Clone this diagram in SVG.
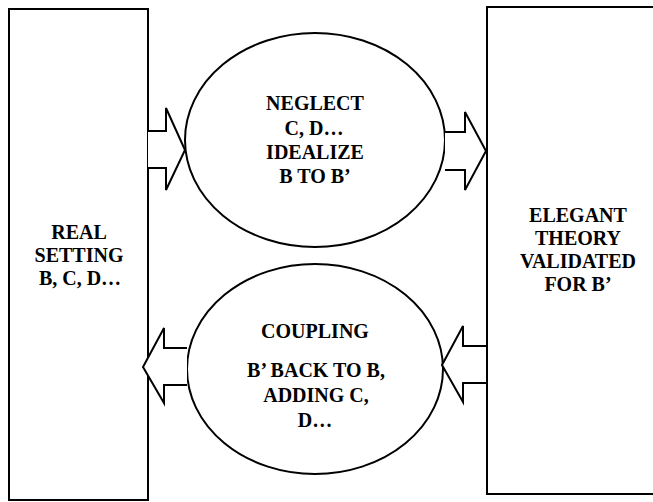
<svg xmlns="http://www.w3.org/2000/svg" width="653" height="502" viewBox="0 0 653 502">
<style>
.box{fill:#fff;stroke:#000;stroke-width:2}
.arr{fill:#fff;stroke:#000;stroke-width:2;stroke-linejoin:miter}
.t{font-family:'Liberation Serif','Times New Roman',serif;font-weight:700;font-size:20px;fill:#000;text-anchor:middle}
</style>
<rect width="653" height="502" fill="#fff"/>
<g id="real-setting">
<rect class="box" x="9" y="9" width="139" height="491"/>
<text class="t" x="79" y="239">REAL</text>
<text class="t" x="79" y="262">SETTING</text>
<text class="t" x="80" y="285">B, C, D…</text>
</g>
<g id="elegant-theory">
<rect class="box" x="487" y="7" width="180" height="487"/>
<text class="t" x="578" y="222">ELEGANT</text>
<text class="t" x="578" y="245">THEORY</text>
<text class="t" x="578" y="268">VALIDATED</text>
<text class="t" x="578" y="291">FOR B’</text>
</g>
<g id="idealize">
<ellipse class="box" cx="315" cy="140" rx="130" ry="107"/>
<text class="t" x="315" y="110">NEGLECT</text>
<text class="t" x="314" y="135">C, D…</text>
<text class="t" x="315" y="159">IDEALIZE</text>
<text class="t" x="315" y="183">B TO B’</text>
</g>
<g id="coupling">
<ellipse class="box" cx="315" cy="369" rx="128" ry="105"/>
<text class="t" x="315" y="338">COUPLING</text>
<text class="t" x="316" y="377">B’ BACK TO B,</text>
<text class="t" x="316" y="402">ADDING C,</text>
<text class="t" x="315" y="427">D…</text>
</g>
<g id="connectors">
<path class="arr" d="M148,131 L166,131 L166,108 L185,150 L166,190 L166,168 L148,168"/>
<path class="arr" d="M445,132 L465,132 L465,112 L486,151 L465,190 L465,170 L445,170"/>
<path class="arr" d="M187,348 L164,348 L164,328 L143,367 L164,403 L164,385 L187,385"/>
<path class="arr" d="M487,346 L463,346 L463,326 L442,365 L463,402 L463,383 L487,383 Z"/>
</g>
</svg>
